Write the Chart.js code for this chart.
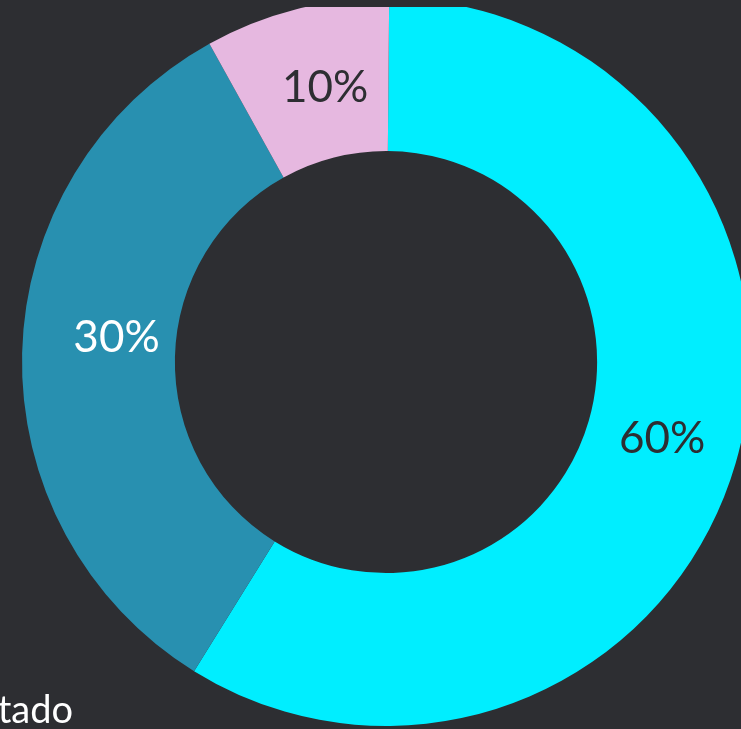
<!DOCTYPE html>
<html>
<head>
<meta charset="utf-8">
<script src="https://cdn.jsdelivr.net/npm/chart.js@4.4.1/dist/chart.umd.min.js"></script>
<style>
  html, body { margin: 0; padding: 0; background: #2d2e32; overflow: hidden; }
  #wrap { position: absolute; left: 0; top: 7px; width: 741px; height: 722px; }
  #note { position: absolute; left: -300px; width: 373px; text-align: right; top: 688px; color: #ffffff;
          font-family: Lato, "Open Sans", sans-serif; font-size: 38px; line-height: 40px; white-space: nowrap; }
</style>
</head>
<body>
<div id="wrap"><canvas id="chart"></canvas></div>
<div id="note">Resultado</div>
<script>
// Datos
var categories = ["A", "B", "C"];
var values = [58.7, 33.1, 8.2];
var valueLabels = ["60%", "30%", "10%"];
var sliceColors = ["#00eeff", "#2890b0", "#e6b8e0"];
var labelColors = ["#2d2e32", "#ffffff", "#2d2e32"];

// Etiquetas dentro de cada porción (con pequeño ajuste de posición)
var sliceLabels = {
    id: "sliceLabels",
    afterDatasetsDraw: function(chart, args, opts) {
        var ctx = chart.ctx;
        var meta = chart.getDatasetMeta(0);
        ctx.save();
        ctx.font = "44px Lato, 'Open Sans', sans-serif";
        ctx.textAlign = "center";
        ctx.textBaseline = "middle";
        meta.data.forEach(function(arc, i) {
            var p = arc.tooltipPosition();
            var nudge = opts.nudge[i] || [0, 0];
            ctx.fillStyle = labelColors[i];
            ctx.fillText(valueLabels[i], p.x + nudge[0], p.y + nudge[1]);
        });
        ctx.restore();
    }
};

var ctx = document.getElementById("chart").getContext("2d");
var chart = new Chart(ctx, {
    type: "doughnut",
    data: {
        labels: categories,
        datasets: [{
            data: values,
            backgroundColor: sliceColors,
            borderWidth: 0,
            clip: false
        }]
    },
    options: {
        responsive: true,
        maintainAspectRatio: false,
        animation: false,
        rotation: 0.5,
        radius: 364,
        cutout: "58%",
        layout: { padding: { left: 31, right: 0, top: 0, bottom: 12 } },
        plugins: {
            legend: { display: false },
            tooltip: { enabled: false },
            sliceLabels: { nudge: [[0, -3], [18, -17], [10, 5]] }
        }
    },
    plugins: [sliceLabels]
});
</script>
</body>
</html>
